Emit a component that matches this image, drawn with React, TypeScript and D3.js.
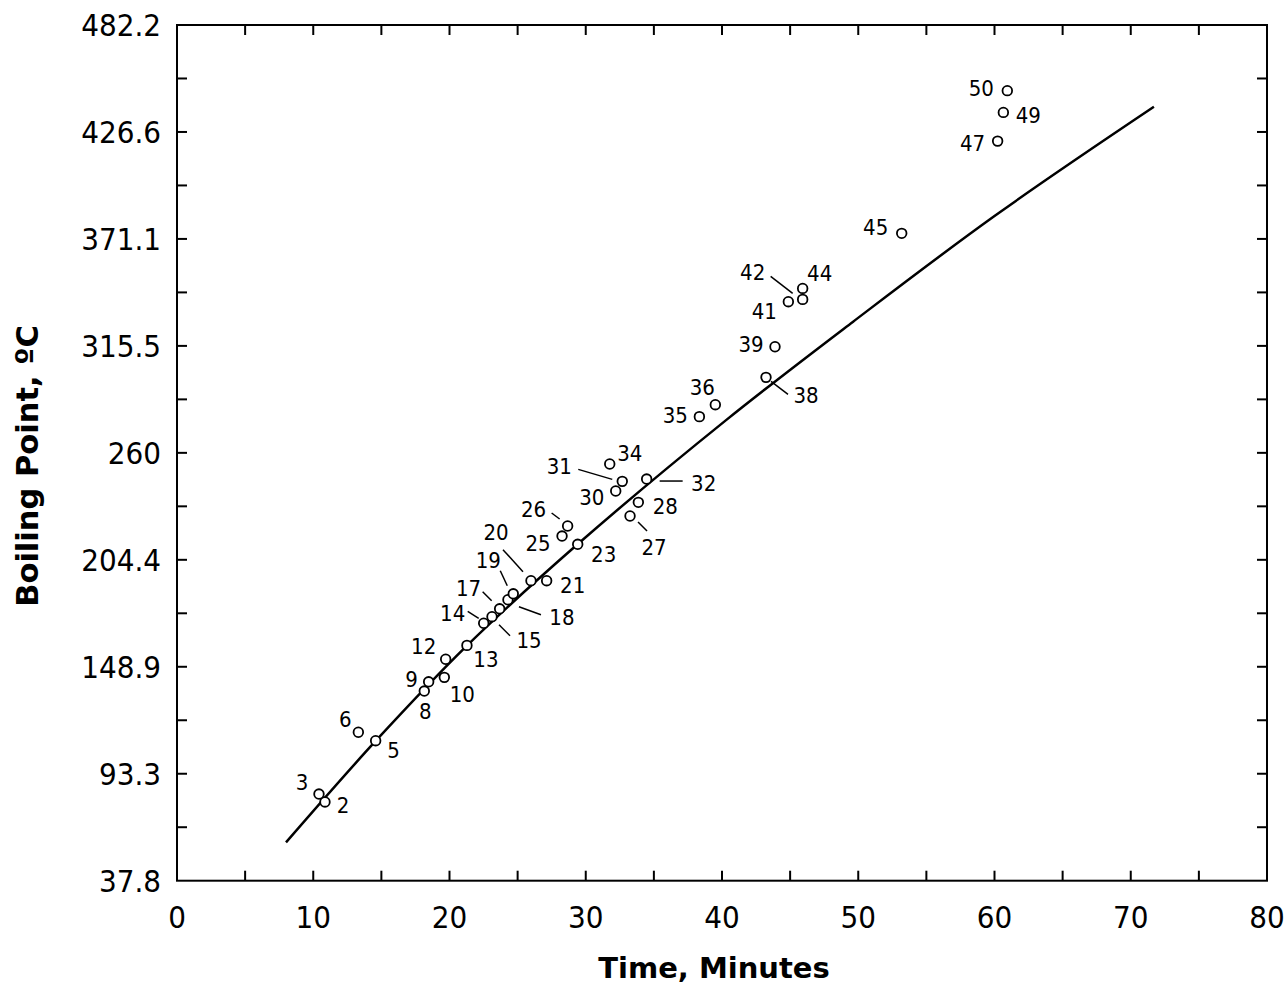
import React from "react";
import * as d3 from "d3";

// boiling point vs retention time
const pointIds = [2, 3, 5, 6, 8, 9, 10, 12, 13, 14, 15, 17, 18, 19, 20, 21, 23, 25, 26, 27, 28, 30, 31, 32, 34, 35, 36, 38, 39, 41, 42, 44, 45, 47, 49, 50];
const pointTime = [10.86, 10.42, 14.58, 13.31, 18.15, 18.47, 19.62, 19.72, 21.28, 22.51, 23.12, 23.68, 24.29, 24.68, 25.98, 27.13, 29.41, 28.26, 28.67, 33.25, 33.86, 32.2, 32.68, 34.47, 31.76, 38.34, 39.51, 43.23, 43.89, 44.87, 45.92, 45.92, 53.19, 60.23, 60.65, 60.94];
const pointBp = [78.7, 82.8, 110.5, 114.9, 136.3, 141.1, 143.4, 152.8, 160.0, 171.5, 174.9, 179.0, 183.7, 186.8, 193.6, 193.6, 212.5, 216.8, 222.0, 227.2, 234.3, 240.2, 245.2, 246.4, 254.2, 278.8, 285.0, 299.2, 315.1, 338.5, 339.7, 345.4, 374.0, 421.9, 436.8, 448.1];

// calibration curve
const curveTime = [8, 14.6, 21.3, 29.4, 40.3, 49.6, 60, 71.7];
const curveBp = [57.7, 110.5, 160, 212.5, 277, 328, 383, 439.7];

const xTicks = [0, 10, 20, 30, 40, 50, 60, 70, 80];
const yTicks = [37.8, 93.35, 148.9, 204.45, 260, 315.55, 371.1, 426.65, 482.2];
const yTickLabels = ["37.8", "93.3", "148.9", "204.4", "260", "315.5", "371.1", "426.6", "482.2"];

// label placement (px offsets from the marker)
const labelOffset: Record<number, [number, number]> = {
  2: [18, 3], 3: [-17, -12], 5: [18, 9], 6: [-13, -13], 8: [1, 20], 9: [-17, -3],
  10: [18, 17], 12: [-22, -13], 13: [19, 14], 14: [-31, -10], 15: [37, 23], 17: [-31, -21],
  18: [54, 17], 19: [-25, -34], 20: [-35, -49], 21: [26, 4], 23: [26, 10], 25: [-24, 7],
  26: [-34, -17], 27: [24, 31], 28: [27, 4], 30: [-24, 6], 31: [-63, -15], 32: [57, 4],
  34: [20, -11], 35: [-24, -2], 36: [-13, -18], 38: [40, 18], 39: [-24, -3], 41: [-24, 9],
  42: [-50, -27], 44: [17, -15], 45: [-26, -6], 47: [-25, 2], 49: [25, 3], 50: [-26, -3],
};
const leaders: Record<number, [number, number, number, number]> = {
  14: [-16, -12, -5, -5], 15: [7, 8, 18, 19], 17: [-17, -17, -8, -8], 18: [11, 7, 33, 15],
  19: [-13, -23, -6, -8], 20: [-28, -31, -8, -9], 26: [-16, -13, -8, -7], 27: [8, 6, 17, 15],
  31: [-44, -12, -10, -2], 32: [13, 2, 36, 2], 38: [5, 4, 22, 17], 42: [-32, -23, -10, -6],
};

const W = 1286;
const H = 984;
const left = 177, right = 1267, top = 25, bottom = 880.7;
const font = "'DejaVu Sans Condensed', 'DejaVu Sans', Verdana, sans-serif";
const titleFont = "'DejaVu Sans', Verdana, sans-serif";

export default function App() {
  const x = d3.scaleLinear().domain([0, 80]).range([left, right]);
  const y = d3.scaleLinear().domain([37.8, 482.2]).range([bottom, top]);

  const xAll = d3.range(0, 80.01, 5);
  const yAll = d3.range(0, 17).map((i) => 37.8 + (i * (482.2 - 37.8)) / 16);
  const tl = 10;

  const line = d3
    .line<number>()
    .x((d, i) => x(curveTime[i]))
    .y((d) => y(d))
    .curve(d3.curveCatmullRom);

  return (
    <svg width={W} height={H} style={{ position: "absolute", left: 0, top: 0, background: "#fff" }}>
      <rect x={0} y={0} width={W} height={H} fill="#fff" />
      {/* ticks, inward on all four sides */}
      <g stroke="#000" strokeWidth={2}>
        {xAll.slice(1, -1).map((t) => (
          <g key={"x" + t}>
            <line x1={x(t)} x2={x(t)} y1={bottom} y2={bottom - tl} />
            <line x1={x(t)} x2={x(t)} y1={top} y2={top + tl} />
          </g>
        ))}
        {yAll.slice(1, -1).map((v, i) => (
          <g key={"y" + i}>
            <line x1={left} x2={left + tl} y1={y(v)} y2={y(v)} />
            <line x1={right} x2={right - tl} y1={y(v)} y2={y(v)} />
          </g>
        ))}
      </g>
      <rect x={left} y={top} width={right - left} height={bottom - top} fill="none" stroke="#000" strokeWidth={2} />

      <g fontFamily={font} fontSize={31} fill="#000">
        {xTicks.map((t) => (
          <text key={t} x={x(t)} y={928} textAnchor="middle">{t}</text>
        ))}
        {yTicks.map((v, i) => (
          <text key={i} x={161} y={y(v)} dy="0.36em" textAnchor="end">{yTickLabels[i]}</text>
        ))}
      </g>

      <text x={714} y={978} textAnchor="middle" fontFamily={titleFont} fontWeight="bold" fontSize={29}>Time, Minutes</text>
      <text transform="translate(38,466) rotate(-90)" textAnchor="middle" fontFamily={titleFont} fontWeight="bold" fontSize={30.5}>Boiling Point, ºC</text>

      <path d={line(curveBp) || ""} fill="none" stroke="#000" strokeWidth={2.5} />

      <g stroke="#000" strokeWidth={1.5}>
        {pointIds.map((id, i) => {
          const l = leaders[id];
          if (!l) return null;
          const px = x(pointTime[i]);
          const py = y(pointBp[i]);
          return <line key={id} x1={px + l[0]} y1={py + l[1]} x2={px + l[2]} y2={py + l[3]} />;
        })}
      </g>
      <g>
        {pointIds.map((id, i) => (
          <circle key={id} cx={x(pointTime[i])} cy={y(pointBp[i])} r={4.8} fill="#fff" stroke="#000" strokeWidth={1.8} />
        ))}
      </g>
      <g fontFamily={font} fontSize={22} fill="#000">
        {pointIds.map((id, i) => {
          const o = labelOffset[id];
          return (
            <text key={id} x={x(pointTime[i]) + o[0]} y={y(pointBp[i]) + o[1]} dy="0.36em" textAnchor="middle">{id}</text>
          );
        })}
      </g>
    </svg>
  );
}
